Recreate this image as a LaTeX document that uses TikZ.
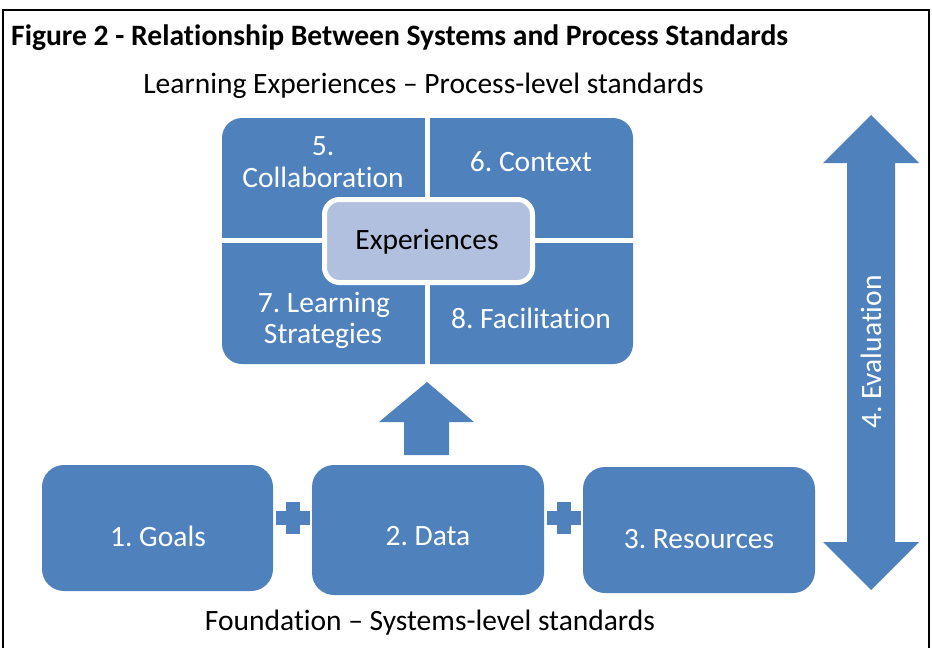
\documentclass[tikz,border=0pt]{standalone}
\usepackage{fontspec}
\setmainfont{Carlito}[Ligatures={NoCommon}]
\frenchspacing
\definecolor{blu}{RGB}{79,129,189}
\definecolor{lblu}{RGB}{176,192,222}
\begin{document}
\begin{tikzpicture}[x=1pt,y=-1pt,
  fbox/.style={fill=blu, rounded corners=22pt, minimum width=231pt, minimum height=126pt, inner sep=0pt},
  wtxt/.style={text=white, font=\fontsize{29.5}{34}\selectfont, inner sep=0pt, anchor=base},
  btxt/.style={text=black, font=\fontsize{29.5}{34}\selectfont, inner sep=0pt, anchor=base},
  captxt/.style={text=black, font=\fontsize{29.5}{34}\selectfont, inner sep=0pt, anchor=base}]
\useasboundingbox (0,0) rectangle (932,648);
% frame
\draw[line width=2pt] (3,648) -- (3,10) -- (928.5,10) -- (928.5,648);
\node[anchor=base west, inner sep=0pt, font=\fontsize{29.6}{34}\selectfont\bfseries] (title) at (11,45) {Figure 2 - Relationship Between Systems and Process Standards};
\node[captxt] (sub) at (423.5,93) {Learning Experiences – Process-level standards};
\node[captxt] (foot) at (430,630) {Foundation – Systems-level standards};
% quadrant block
\fill[blu, rounded corners=20pt] (222,118) rectangle (633,364);
\draw[white, line width=5pt] (427.5,112) -- (427.5,370);
\draw[white, line width=5pt] (216,240.5) -- (639,240.5);
\node[wtxt] (q5a) at (323,155) {5.};
\node[wtxt] (q5b) at (323,187) {Collaboration};
\node[wtxt] (q6) at (531,171) {6. Context};
\node[wtxt] (q7a) at (324,312) {7. Learning};
\node[wtxt] (q7b) at (323,343) {Strategies};
\node[wtxt] (q8) at (531,328) {8. Facilitation};
\node[fill=lblu, draw=white, line width=5pt, rounded corners=15pt, minimum width=208pt, minimum height=83pt, inner sep=0pt] (exp) at (428.5,241) {};
\node[btxt] (expt) at (427,249) {Experiences};
% up arrow
\fill[blu] (427,382) -- (474,422) -- (449,422) -- (449,455) -- (404,455) -- (404,422) -- (379,422) -- cycle;
% foundation boxes
\node[fbox] (g1) at (157.5,528) {};
\node[fbox, minimum width=232pt, minimum height=130pt] (g2) at (428,530) {};
\node[fbox, minimum width=232pt] (g3) at (699,530) {};
\node[wtxt] (g1t) at (158,546) {1. Goals};
\node[wtxt] (g2t) at (428,545) {2. Data};
\node[wtxt] (g3t) at (699,548) {3. Resources};
% plus signs
\foreach \cx in {293,563.5}{
  \fill[blu] (\cx-17,511) rectangle (\cx+17,525);
  \fill[blu] (\cx-7,502) rectangle (\cx+7,534);
}
% double arrow
\fill[blu] (871,115) -- (919,163) -- (895,163) -- (895,542) -- (919,542) -- (871,590) -- (823,542) -- (847,542) -- (847,163) -- (823,163) -- cycle;
\node[wtxt, rotate=90] (ev) at (881,352) {4. Evaluation};
\end{tikzpicture}
\end{document}
